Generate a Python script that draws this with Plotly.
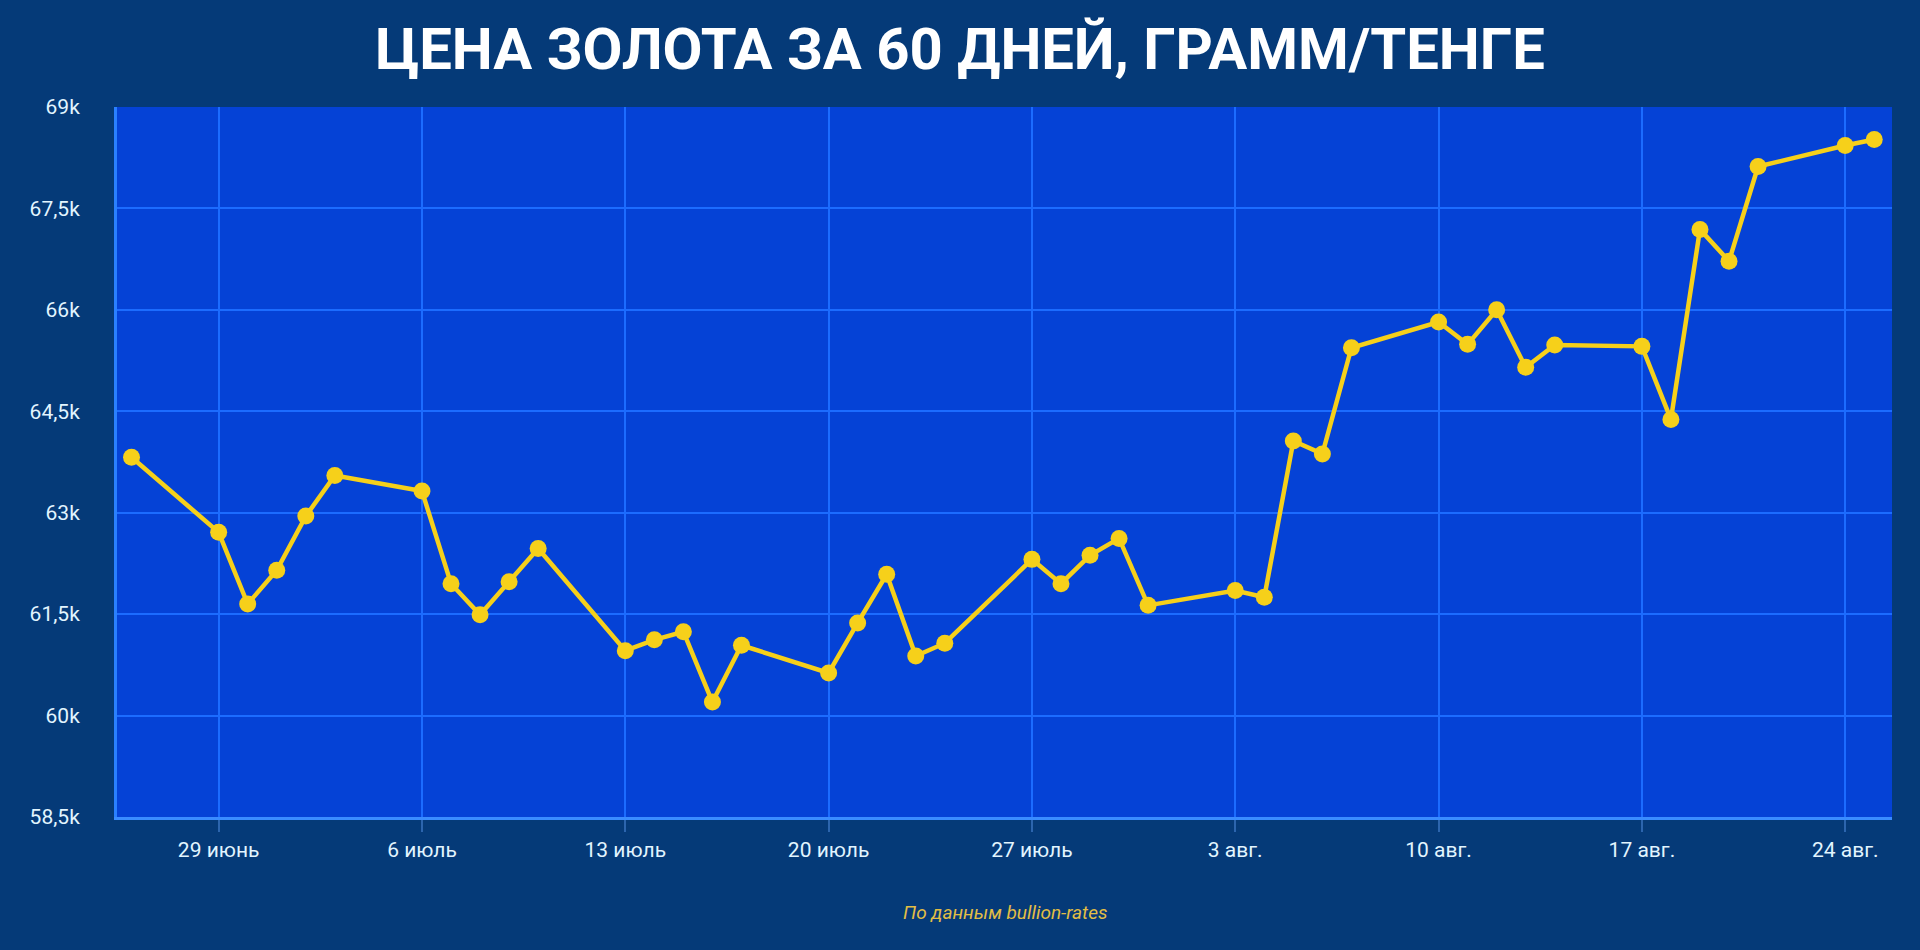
import plotly.graph_objects as go

# gold price, tenge per gram
dates = [
    "2020-06-26", "2020-06-29", "2020-06-30", "2020-07-01", "2020-07-02", "2020-07-03",
    "2020-07-06", "2020-07-07", "2020-07-08", "2020-07-09", "2020-07-10",
    "2020-07-13", "2020-07-14", "2020-07-15", "2020-07-16", "2020-07-17",
    "2020-07-20", "2020-07-21", "2020-07-22", "2020-07-23", "2020-07-24",
    "2020-07-27", "2020-07-28", "2020-07-29", "2020-07-30", "2020-07-31",
    "2020-08-03", "2020-08-04", "2020-08-05", "2020-08-06", "2020-08-07",
    "2020-08-10", "2020-08-11", "2020-08-12", "2020-08-13", "2020-08-14",
    "2020-08-17", "2020-08-18", "2020-08-19", "2020-08-20", "2020-08-21",
    "2020-08-24", "2020-08-25",
]
prices = [
    63820, 62710, 61650, 62150, 62950, 63550,
    63320, 61950, 61490, 61980, 62470,
    60960, 61120, 61240, 60200, 61040,
    60630, 61370, 62090, 60880, 61070,
    62310, 61950, 62370, 62620, 61630,
    61850, 61750, 64060, 63870, 65440,
    65820, 65490, 66000, 65150, 65480,
    65460, 64380, 67190, 66720, 68120,
    68430, 68520,
]

x_tickvals = ["2020-06-29", "2020-07-06", "2020-07-13", "2020-07-20",
              "2020-07-27", "2020-08-03", "2020-08-10", "2020-08-17", "2020-08-24"]
x_ticktext = ["29 июнь", "6 июль", "13 июль", "20 июль",
              "27 июль", "3 авг.", "10 авг.", "17 авг.", "24 авг."]
y_tickvals = [58500, 60000, 61500, 63000, 64500, 66000, 67500, 69000]
y_ticktext = ["58,5k", "60k", "61,5k", "63k", "64,5k", "66k", "67,5k", "69k"]

title = "ЦЕНА ЗОЛОТА ЗА 60 ДНЕЙ, ГРАММ/ТЕНГЕ"
source = "По данным bullion-rates"

GOLD = "#f6d01a"
GRID = "#1c6cff"
LABEL = "#e2f5ff"

fig = go.Figure()
fig.add_trace(go.Scatter(
    x=dates, y=prices, mode="lines+markers",
    line=dict(color=GOLD, width=4.5),
    marker=dict(color=GOLD, size=17),
    hoverinfo="x+y", showlegend=False,
))

fig.update_layout(
    width=1920, height=950,
    margin=dict(l=117, r=28, t=107, b=133),
    paper_bgcolor="#053a78",
    plot_bgcolor="#0542d6",
    font=dict(family="Roboto, sans-serif", color=LABEL),
    title=dict(
        text=title, x=0.5, xanchor="center", y=0.949, yanchor="middle",
        font=dict(family="Roboto", size=58, color="#ffffff", weight="bold"),
    ),
    xaxis=dict(
        type="date",
        range=["2020-06-25 12:00", "2020-08-25 14:40"],
        tickvals=x_tickvals, ticktext=x_ticktext,
        showgrid=True, gridcolor=GRID, gridwidth=1.5,
        ticks="outside", ticklen=12, tickcolor="rgba(70,130,210,0.6)", tickwidth=1.5,
        showline=True, linecolor="#3a8cff", linewidth=3,
        zeroline=False,
        tickfont=dict(size=21, color=LABEL),
    ),
    yaxis=dict(
        range=[58500, 69000],
        tickvals=y_tickvals, ticktext=y_ticktext,
        showgrid=True, gridcolor=GRID, gridwidth=2,
        showline=True, linecolor="#2a80ff", linewidth=3,
        zeroline=False, ticks="",
        ticklabelstandoff=30,
        tickfont=dict(size=21, color=LABEL),
    ),
    annotations=[dict(
        text=source, xref="paper", yref="paper", x=0.5, y=-0.135,
        xanchor="center", yanchor="middle", showarrow=False,
        font=dict(family="Roboto", size=19, color="#e2be45", style="italic"),
    )],
)

fig.write_html("out.html", config={"displayModeBar": False},
               post_script="document.body.style.margin='0';")
